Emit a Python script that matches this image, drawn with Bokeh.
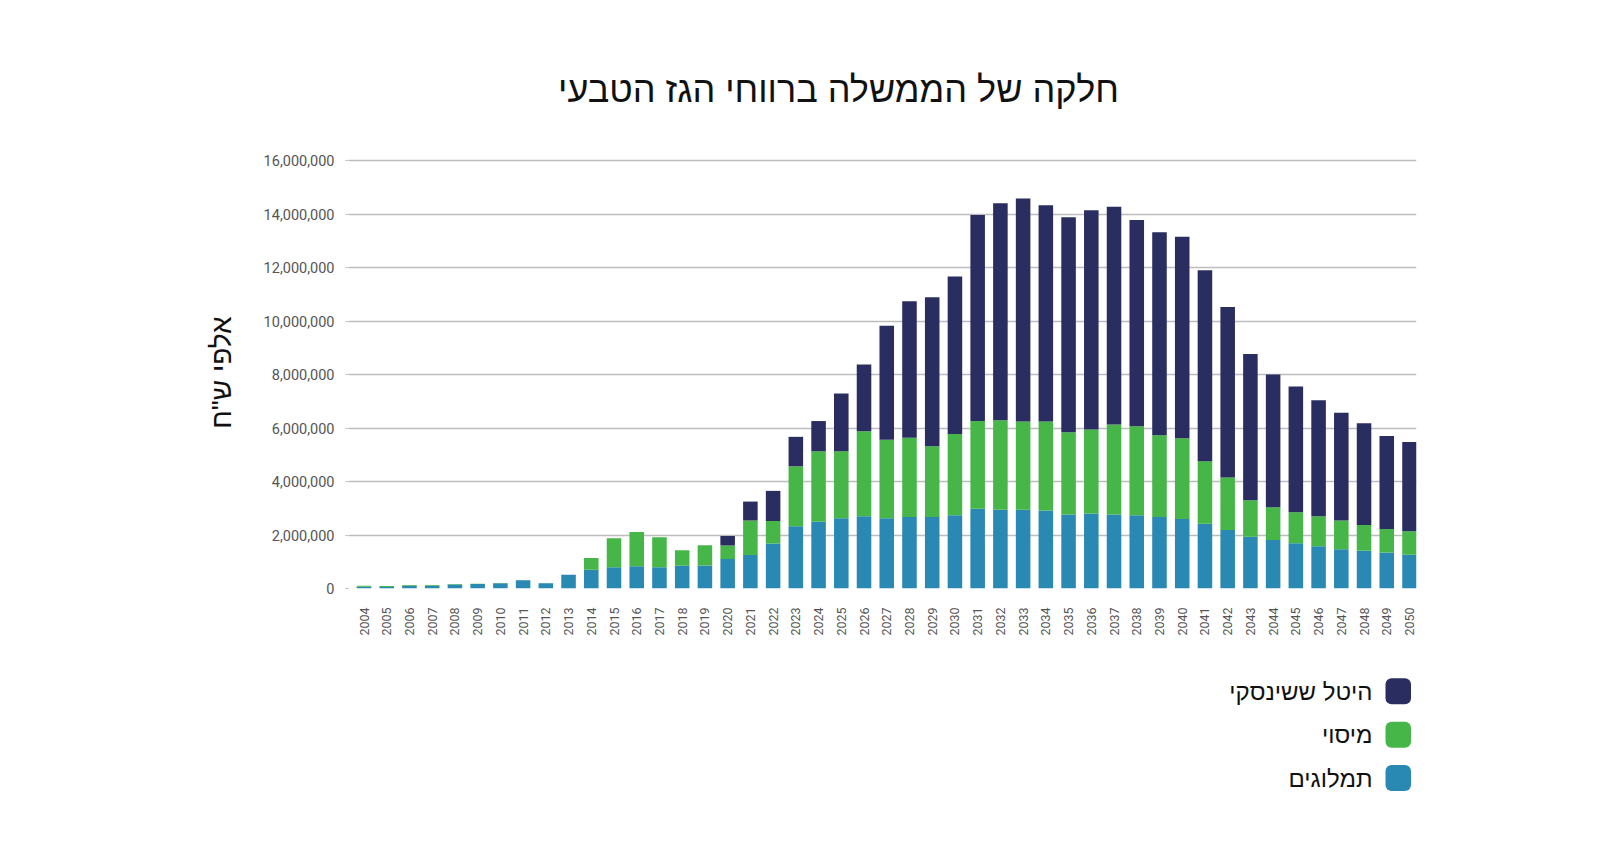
from bokeh.plotting import figure
from bokeh.models import Range1d, NumeralTickFormatter, FixedTicker, ColumnDataSource
from bokeh.layouts import column
from bokeh.embed import file_html
from bokeh.resources import INLINE
from bokeh.core.properties import value
import math

title_text = "חלקה של הממשלה ברווחי הגז הטבעי"
y_label = "אלפי ש\"ח"

years = list(range(2004, 2051))

royalties = [70000, 60000, 100000, 100000, 150000, 170000, 200000, 310000, 200000, 510000,
             700000, 790000, 830000, 790000, 850000, 860000, 1100000, 1250000, 1680000, 2330000,
             2500000, 2630000, 2700000, 2630000, 2670000, 2670000, 2740000, 2980000, 2940000, 2940000,
             2920000, 2770000, 2800000, 2770000, 2740000, 2670000, 2600000, 2420000, 2190000, 1930000,
             1810000, 1690000, 1580000, 1470000, 1410000, 1350000, 1260000]

taxation = [30000, 30000, 30000, 30000, 20000, 10000, 10000, 0, 0, 0,
            440000, 1090000, 1280000, 1130000, 580000, 760000, 510000, 1290000, 840000, 2240000,
            2630000, 2500000, 3180000, 2930000, 2970000, 2650000, 3040000, 3280000, 3350000, 3300000,
            3320000, 3070000, 3140000, 3360000, 3330000, 3060000, 3020000, 2340000, 1960000, 1370000,
            1230000, 1160000, 1120000, 1070000, 960000, 870000, 880000]

levy = [0, 0, 0, 0, 0, 0, 0, 0, 0, 0,
        0, 0, 0, 0, 0, 0, 350000, 710000, 1130000, 1100000,
        1130000, 2160000, 2490000, 4260000, 5100000, 5570000, 5880000, 7700000, 8110000, 8340000,
        8090000, 8040000, 8200000, 8140000, 7710000, 7590000, 7530000, 7140000, 6370000, 5470000,
        4960000, 4700000, 4340000, 4030000, 3810000, 3480000, 3340000]

series_keys = ["royalties", "taxation", "levy"]
series_names = ["תמלוגים", "מיסוי", "היטל ששינסקי"]
series_colors = ["#2a89b3", "#47b649", "#2a2d5f"]

y_ticks = [0, 2000000, 4000000, 6000000, 8000000, 10000000, 12000000, 14000000, 16000000]

HEB = "Liberation Sans"
NUM = "Roboto"
W = 1584
FL, FR = 348, 1416   # frame left/right in page px (shared by the column)

# ---- title figure ----
tf = figure(width=W, height=110, x_range=Range1d(FL, FR), y_range=Range1d(110, 0),
            output_backend="svg", toolbar_location=None, min_border=0)
tf.axis.visible = False
tf.grid.visible = False
tf.outline_line_color = None
tf.text(x=[838], y=[89], text=[title_text], text_align="center", text_baseline="middle",
        text_font=value(HEB), text_font_size="36px", text_color="#111111")

# ---- main chart ----
src = ColumnDataSource(dict(year=years, royalties=royalties, taxation=taxation, levy=levy))

p = figure(width=W, height=548, output_backend="svg", toolbar_location=None,
           x_range=Range1d(2003.318, 2050.308), y_range=Range1d(0, 16150000),
           min_border_left=FL, min_border_right=W - FR, min_border_top=46, min_border_bottom=70)
p.outline_line_color = None
p.vbar_stack(series_keys, x="year", width=0.64, source=src, color=series_colors, line_color=None)

p.xgrid.visible = False
p.ygrid.grid_line_color = "#bdbdbd"
p.ygrid.grid_line_width = 1.5
p.ygrid.ticker = FixedTicker(ticks=y_ticks)

p.yaxis.ticker = FixedTicker(ticks=y_ticks)
p.yaxis.formatter = NumeralTickFormatter(format="0,0")
p.yaxis.axis_line_color = None
p.yaxis.major_tick_line_color = "#bdbdbd"
p.yaxis.major_tick_out = 3
p.yaxis.major_tick_in = 0
p.yaxis.minor_tick_line_color = None
p.yaxis.major_label_standoff = 11
p.yaxis.major_label_text_font = NUM
p.yaxis.major_label_text_font_size = "14.5px"
p.yaxis.major_label_text_color = "#555555"
p.yaxis.axis_label = y_label
p.yaxis.axis_label_text_font = HEB
p.yaxis.axis_label_text_font_size = "28px"
p.yaxis.axis_label_text_font_style = "normal"
p.yaxis.axis_label_text_color = "#111111"
p.yaxis.axis_label_standoff = 24

p.xaxis.ticker = FixedTicker(ticks=years)
p.xaxis.axis_line_color = None
p.xaxis.major_tick_line_color = None
p.xaxis.minor_tick_line_color = None
p.xaxis.major_label_orientation = math.pi / 2
p.xaxis.major_label_standoff = 13
p.xaxis.major_label_text_font = NUM
p.xaxis.major_label_text_font_size = "12.5px"
p.xaxis.major_label_text_color = "#555555"

# ---- legend figure ----
lf = figure(width=W, height=180, x_range=Range1d(FL, FR), y_range=Range1d(180, 0),
            output_backend="svg", toolbar_location=None, min_border=0)
lf.axis.visible = False
lf.grid.visible = False
lf.outline_line_color = None
order = [2, 1, 0]
cy = [32.8 + 43.4 * i for i in range(3)]
lf.quad(left=[1385] * 3, right=[1410.5] * 3,
        top=[c - 13 for c in cy], bottom=[c + 13 for c in cy],
        color=[series_colors[k] for k in order], line_color=None, border_radius=6)
lf.text(x=[1372] * 3, y=cy, text=[series_names[k] for k in order],
        text_align="right", text_baseline="middle",
        text_font=value(HEB), text_font_size="24px", text_color="#111111")

layout = column(tf, p, lf, spacing=0)
open("out.html", "w").write(file_html(layout, INLINE))
